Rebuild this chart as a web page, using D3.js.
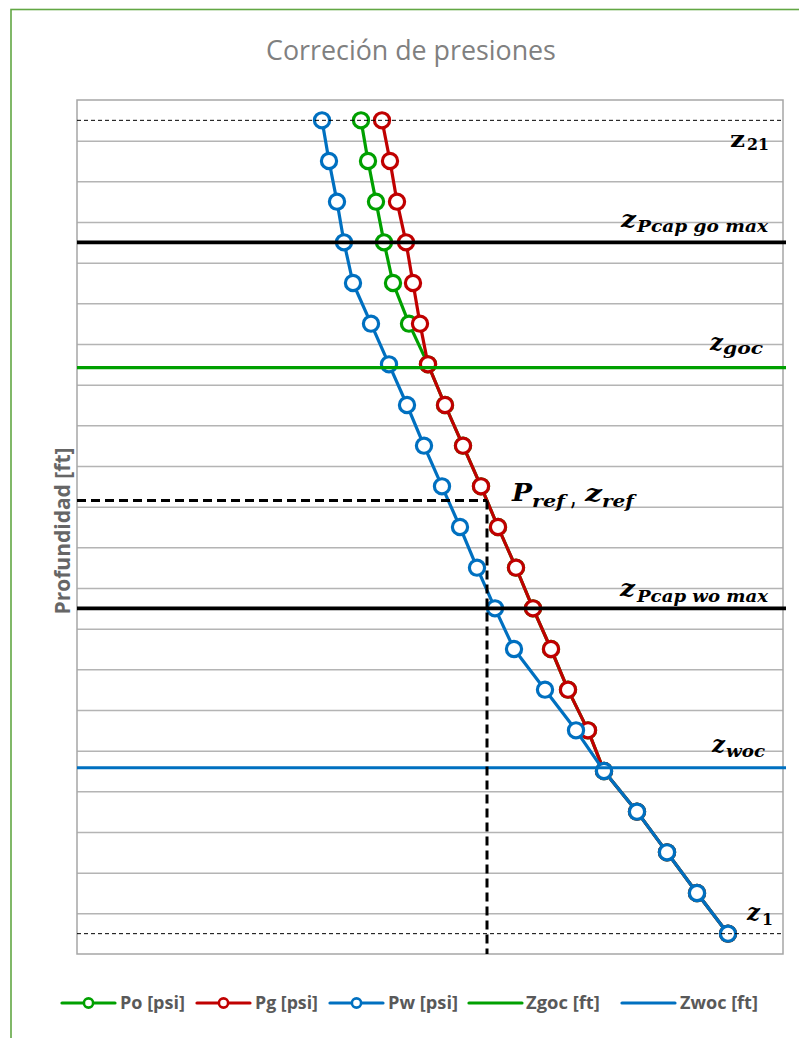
<!DOCTYPE html>
<html><head><meta charset="utf-8">
<script src="https://cdn.jsdelivr.net/npm/d3@7"></script>
<style>body{margin:0;background:#fff;} svg{display:block;}</style>
</head><body>
<svg id="c" width="799" height="1038"></svg>
<script>
// ---------- data ----------
const depths = [5000,5010,5020,5030,5040,5050,5060,5070,5080,5090,5100,5110,5120,5130,5140,5150,5160,5170,5180,5190,5200];
const Po = [2284,2291,2299,2307,2316,2332,2351,2368,2386,2404,2421,2439,2456,2474,2491,2511,2527,2560,2590,2620,2651];
const Pg = [2305,2313,2320,2329,2336,2343,2351,2368,2386,2404,2421,2439,2456,2474,2491,2511,2527,2560,2590,2620,2651];
const Pw = [2245,2252,2260,2267,2276,2294,2312,2330,2347,2365,2383,2400,2418,2437,2468,2499,2527,2560,2590,2620,2651];
const gridDepths = [5005,5015,5025,5035,5045,5055,5065,5075,5085,5095,5105,5115,5125,5135,5145,5155,5165,5175,5185,5195];
const z21 = 5000, z1 = 5200;
const zPcapGoMax = 5030, zGoc = 5060.8, zPcapWoMax = 5120, zWoc = 5159.2;
const zRef = 5093.5, pRef = 2410;
const seriesNames = ["Po [psi]","Pg [psi]","Pw [psi]"];
const contactNames = ["Zgoc [ft]","Zwoc [ft]"];
const titleText = "Correción de presiones";
const yTitleText = "Profundidad [ft]";

// ---------- layout ----------
const COL = {green:"#00a000", red:"#c00000", blue:"#0070c0"};
const svg = d3.select("#c");
const M = {left:77, top:100, right:783, bottom:954};
const W = M.right - M.left, H = M.bottom - M.top;
const x = d3.scaleLinear().domain([2000, 2706]).range([0, W]);
const y = d3.scaleLinear().domain([4995, 5205]).range([0, H]);

function fit(sel, w){
  const cur = sel.node().getComputedTextLength();
  const fs = parseFloat(sel.attr("font-size"));
  sel.attr("font-size", fs * w / cur);
  return sel;
}

// outer chart frame (only left/top visible)
svg.append("rect").attr("x",11).attr("y",9.5).attr("width",900).attr("height",1100)
  .attr("fill","none").attr("stroke","#62a744").attr("stroke-width",1.6);

// title
const t = svg.append("text").attr("x",411).attr("y",60).attr("text-anchor","middle")
  .attr("font-family","'Open Sans'").attr("font-size",25).attr("fill","#808080").text(titleText);
fit(t, 290);

// y axis title
const yt = svg.append("text").attr("transform","translate(70,531) rotate(-90)").attr("text-anchor","middle")
  .attr("font-family","'Open Sans'").attr("font-weight","bold").attr("font-size",16).attr("fill","#666666").text(yTitleText);
fit(yt, 167);

const g = svg.append("g").attr("transform",`translate(${M.left},${M.top})`);

// gridlines
const grid = g.append("g").call(d3.axisLeft(y).tickValues(gridDepths).tickSize(-W).tickFormat(""));
grid.select(".domain").remove();
grid.selectAll("line").attr("stroke","#b4b4b4").attr("stroke-width",1.5);

// plot border
g.append("rect").attr("x",0).attr("y",0).attr("width",W).attr("height",H)
  .attr("fill","none").attr("stroke","#a6a6a6").attr("stroke-width",1.5);

// series
const series = [
  {name:seriesNames[0], vals:Po, color:COL.green},
  {name:seriesNames[1], vals:Pg, color:COL.red},
  {name:seriesNames[2], vals:Pw, color:COL.blue}
];
const line = d3.line().x(d=>x(d[0])).y(d=>y(d[1]));
series.forEach(s=>{
  const pts = s.vals.map((v,i)=>[v, depths[i]]);
  const sg = g.append("g");
  sg.append("path").attr("d", line(pts)).attr("fill","none").attr("stroke",s.color)
    .attr("stroke-width",3.2).attr("stroke-linejoin","round");
  sg.selectAll("circle").data(pts).join("circle")
    .attr("cx",d=>x(d[0])).attr("cy",d=>y(d[1])).attr("r",7.6)
    .attr("fill","#fff").attr("stroke",s.color).attr("stroke-width",3.2);
});

// horizontal reference lines
const hl = (z, color, w, dash) => {
  const l = g.append("line").attr("x1",0).attr("x2",W+3).attr("y1",y(z)).attr("y2",y(z))
    .attr("stroke",color).attr("stroke-width",w);
  if (dash) l.attr("stroke-dasharray",dash);
  return l;
};
hl(z21, "#000", 1, "4,3").attr("x2",W);
hl(z1, "#000", 1, "4,3").attr("x2",W);
hl(zPcapGoMax, "#000", 3.8);
hl(zPcapWoMax, "#000", 3.8);
hl(zGoc, COL.green, 3.2);
hl(zWoc, COL.blue, 3.2);

// Pref, zref dashed lines
g.append("path")
  .attr("d", `M${x.range()[0]},${y(zRef)}H${x(pRef)}`)
  .attr("stroke","#000").attr("stroke-width",3).attr("stroke-dasharray","9,5").attr("fill","none");
g.append("path")
  .attr("d", `M${x(pRef)},${y(zRef)}V${H}`)
  .attr("stroke","#000").attr("stroke-width",3).attr("stroke-dasharray","9,5").attr("fill","none");

// annotations (math-style labels)
const ann = [
  [["z",730,147,22,15,"normal"],["21",747,150,16,22,"normal"]],
  [["z",621,227,22,15,"italic"],["Pcap go max",637,232,16,131,"italic"]],
  [["z",710,350,22,13,"italic"],["goc",723,354,16,40,"italic"]],
  [["P",512,501,25,20,"italic"],["ref",532,507,17,33,"italic"],[",",571,505,20,5,"normal"],["z",585,501,23,17,"italic"],["ref",602,507,17,32,"italic"]],
  [["z",620,596,22,15,"italic"],["Pcap wo max",637,602,16,131,"italic"]],
  [["z",712,752,22,13,"italic"],["woc",726,757,16,39,"italic"]],
  [["z",747,920,22,13,"italic"],["1",762,925,16,11,"normal"]]
];
ann.forEach(parts=>parts.forEach(([txt,px,py,fs,w,st])=>{
  svg.append("text").attr("x",px).attr("y",py).attr("font-family","'DejaVu Serif'")
    .attr("font-weight","bold").attr("font-style",st).attr("font-size",fs)
    .attr("textLength",w).attr("lengthAdjust","spacingAndGlyphs").attr("fill","#000").text(txt);
}));

// legend
const LY = 1003;
const legendItems = [
  {name:seriesNames[0], color:COL.green, marker:true, x0:62, x1:115, tx:120, tw:65},
  {name:seriesNames[1], color:COL.red, marker:true, x0:197, x1:250, tx:255, tw:63},
  {name:seriesNames[2], color:COL.blue, marker:true, x0:330, x1:383, tx:388, tw:70},
  {name:contactNames[0], color:COL.green, marker:false, x0:469, x1:522, tx:526, tw:74},
  {name:contactNames[1], color:COL.blue, marker:false, x0:622, x1:675, tx:680, tw:78}
];
legendItems.forEach(it=>{
  svg.append("line").attr("x1",it.x0).attr("x2",it.x1).attr("y1",LY).attr("y2",LY)
    .attr("stroke",it.color).attr("stroke-width",3.2).attr("stroke-linecap","round");
  if (it.marker) svg.append("circle").attr("cx",(it.x0+it.x1)/2).attr("cy",LY).attr("r",4.6)
    .attr("fill","#fff").attr("stroke",it.color).attr("stroke-width",2.6);
  const lt = svg.append("text").attr("x",it.tx).attr("y",LY+5.5).attr("font-family","'Open Sans'")
    .attr("font-weight","bold").attr("font-size",15).attr("fill","#595959").text(it.name);
  fit(lt, it.tw);
});
</script>
</body></html>
